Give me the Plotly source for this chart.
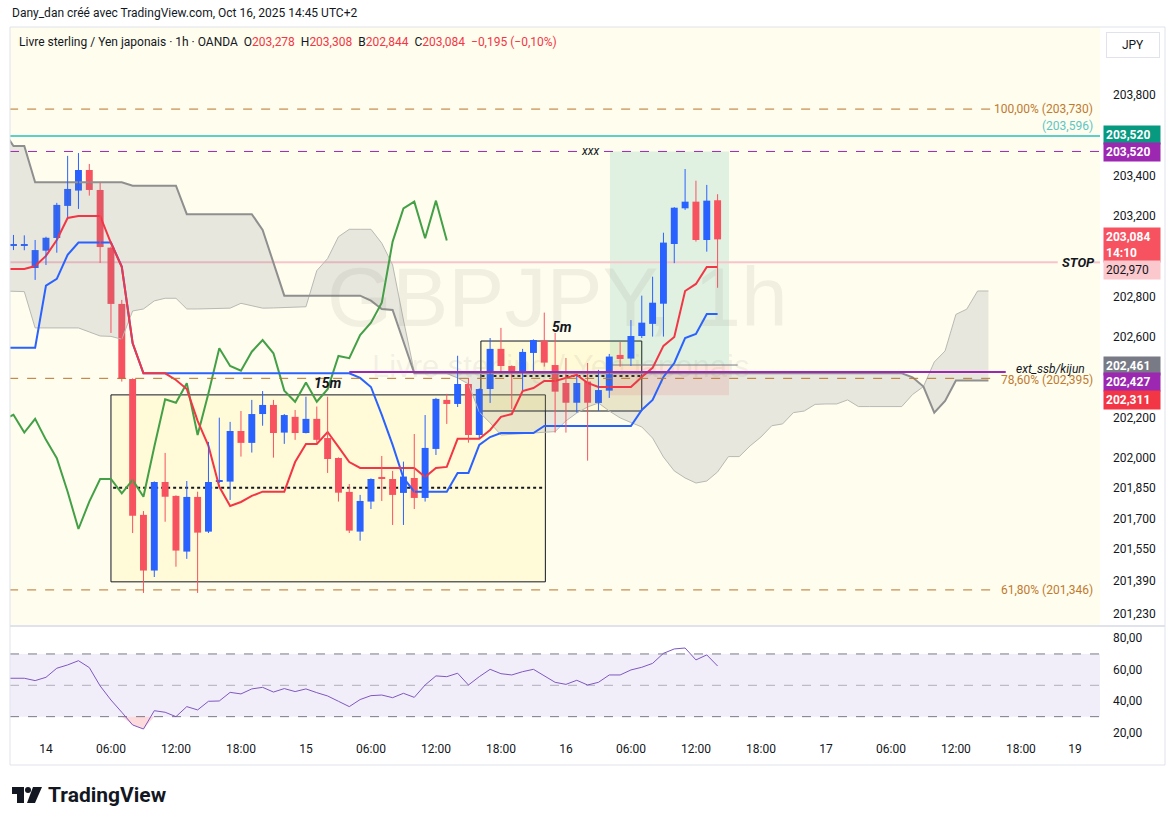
import numpy as np
import plotly.graph_objects as go

W, H = 1175, 824
FONT = "Roboto, Liberation Sans, sans-serif"

# GBPJPY 1h (OANDA).
# x unit = hours from Oct 14 00:00; first visible candle is Oct 13 21:00
first_hour = -3

opens = [203.054, 203.055, 202.942, 203.028, 203.091, 203.250, 203.326, 203.428, 203.329, 203.043,
         202.764, 202.392, 201.718, 201.442, 201.881, 201.812, 201.536, 201.807, 201.635, 201.884,
         201.883, 202.134, 202.075, 202.218, 202.263, 202.126, 202.204, 202.124, 202.194, 202.099,
         202.000, 201.832, 201.635, 201.784, 201.906, 201.896, 201.827, 201.901, 201.802, 202.045,
         202.288, 202.268, 202.367, 202.114, 202.342, 202.541, 202.456, 202.422, 202.521, 202.582,
         202.461, 202.372, 202.274, 202.379, 202.273, 202.334, 202.511, 202.493, 202.605, 202.665,
         202.765, 203.061, 203.238, 203.271, 203.081, 203.278]
highs = [203.106, 203.104, 203.081, 203.097, 203.265, 203.498, 203.512, 203.458, 203.364, 203.048,
         202.784, 202.395, 201.737, 201.884, 202.025, 201.815, 201.886, 201.833, 202.080, 202.200,
         202.179, 202.233, 202.288, 202.332, 202.288, 202.218, 202.238, 202.304, 202.255, 202.304,
         202.003, 201.871, 201.817, 201.899, 202.010, 201.936, 201.982, 202.119, 202.213, 202.298,
         202.318, 202.507, 202.397, 202.345, 202.595, 202.645, 202.459, 202.541, 202.588, 202.721,
         202.620, 202.496, 202.407, 202.471, 202.437, 202.516, 202.575, 202.684, 202.805, 202.899,
         203.117, 203.244, 203.433, 203.375, 203.354, 203.308]
lows = [203.031, 203.030, 202.883, 202.957, 203.018, 203.195, 203.235, 203.301, 202.967, 202.620,
        202.379, 201.628, 201.331, 201.410, 201.684, 201.461, 201.500, 201.331, 201.628, 201.876,
        201.792, 202.007, 202.027, 202.160, 202.002, 202.070, 202.090, 202.122, 202.075, 201.926,
        201.784, 201.628, 201.590, 201.747, 201.787, 201.668, 201.668, 201.747, 201.784, 202.015,
        202.169, 202.253, 202.076, 202.099, 202.273, 202.422, 202.243, 202.337, 202.427, 202.453,
        202.126, 202.126, 202.225, 201.987, 202.233, 202.298, 202.453, 202.456, 202.595, 202.602,
        202.602, 202.966, 203.230, 203.073, 203.023, 202.844]
closes = [203.058, 203.058, 203.031, 203.092, 203.255, 203.334, 203.428, 203.329, 203.046, 202.764,
          202.392, 201.714, 201.442, 201.881, 201.808, 201.541, 201.807, 201.630, 201.881, 201.888,
          202.134, 202.075, 202.218, 202.263, 202.124, 202.213, 202.124, 202.194, 202.090, 201.995,
          201.828, 201.640, 201.787, 201.896, 201.896, 201.817, 201.908, 201.802, 202.050, 202.293,
          202.268, 202.367, 202.114, 202.342, 202.541, 202.456, 202.427, 202.526, 202.585, 202.473,
          202.329, 202.274, 202.372, 202.274, 202.337, 202.503, 202.491, 202.605, 202.671, 202.770,
          203.068, 203.241, 203.271, 203.081, 203.276, 203.084]

# indicator lines start one bar earlier (clipped at the left edge)
line_start = -4
tenkan = [202.937, 202.937, 202.937, 202.952, 203.002, 203.081, 203.190, 203.200, 203.200, 203.200,
          203.066, 202.947, 202.570, 202.420, 202.420, 202.420, 202.387, 202.342, 202.184, 202.060,
          201.857, 201.762, 201.782, 201.812, 201.833, 201.833, 201.833, 201.980, 202.070, 202.070,
          202.129, 202.055, 201.980, 201.951, 201.951, 201.951, 201.951, 201.951, 201.951, 201.906,
          201.951, 201.956, 202.095, 202.095, 202.095, 202.139, 202.204, 202.218, 202.332, 202.347,
          202.382, 202.382, 202.397, 202.412, 202.372, 202.352, 202.352, 202.352, 202.352, 202.402,
          202.447, 202.556, 202.600, 202.828, 202.863, 202.947, 202.947]
kijun = [202.547, 202.547, 202.547, 202.547, 202.855, 202.888, 203.007, 203.068, 203.068, 203.068,
         203.068, 202.949, 202.569, 202.420, 202.420, 202.420, 202.420, 202.420, 202.420, 202.420,
         202.420, 202.420, 202.420, 202.420, 202.420, 202.420, 202.420, 202.420, 202.420, 202.420,
         202.420, 202.420, 202.420, 202.397, 202.352, 202.214, 202.065, 201.901, 201.833, 201.833,
         201.833, 201.833, 201.926, 201.926, 202.065, 202.104, 202.124, 202.124, 202.124, 202.124,
         202.159, 202.159, 202.159, 202.159, 202.159, 202.159, 202.159, 202.159, 202.159, 202.238,
         202.288, 202.402, 202.471, 202.595, 202.615, 202.714, 202.714]
rsi = [54.5, 54.5, 54.5, 53.0, 55.1, 60.9, 63.0, 65.7, 61.3, 49.6,
       40.6, 32.8, 24.7, 22.1, 33.8, 32.8, 30.0, 36.4, 34.3, 39.8,
       40.0, 45.5, 44.5, 47.7, 48.7, 45.7, 47.9, 46.0, 47.7, 45.3,
       43.2, 39.8, 36.4, 40.9, 43.4, 43.8, 42.1, 44.9, 42.3, 50.2,
       56.0, 55.5, 57.7, 50.2, 55.5, 60.2, 57.4, 56.6, 58.7, 60.2,
       56.2, 51.9, 50.6, 53.2, 50.2, 51.9, 56.6, 56.6, 59.8, 61.5,
       64.0, 70.4, 73.2, 73.8, 66.2, 69.4, 62.3]
# cloud, displaced ahead of price (from hour -4 to hour 87)
span_a = [202.828, 202.828, 202.825, 202.645, 202.645, 202.645, 202.645, 202.645, 202.625, 202.605,
          202.603, 202.589, 202.729, 202.739, 202.779, 202.792, 202.792, 202.739, 202.739, 202.741,
          202.742, 202.743, 202.767, 202.754, 202.743, 202.744, 202.746, 202.749, 202.750, 202.929,
          202.989, 203.097, 203.134, 203.134, 203.134, 203.065, 202.957, 202.684, 202.427, 202.424,
          202.423, 202.419, 202.397, 202.367, 202.228, 202.174, 202.114, 202.117, 202.119, 202.123,
          202.127, 202.131, 202.184, 202.223, 202.253, 202.273, 202.233, 202.199, 202.176, 202.154,
          202.099, 202.005, 201.936, 201.901, 201.876, 201.886, 201.931, 202.007, 202.007, 202.060,
          202.104, 202.160, 202.169, 202.225, 202.233, 202.266, 202.268, 202.268, 202.288, 202.255,
          202.255, 202.255, 202.255, 202.255, 202.315, 202.354, 202.476, 202.531, 202.712, 202.738,
          202.828, 202.828]
span_b = [203.626, 203.547, 203.547, 203.367, 203.367, 203.367, 203.367, 203.367, 203.367, 203.367,
          203.367, 203.367, 203.350, 203.350, 203.350, 203.350, 203.350, 203.209, 203.209, 203.209,
          203.209, 203.209, 203.209, 203.209, 203.131, 202.967, 202.805, 202.805, 202.805, 202.805,
          202.805, 202.805, 202.805, 202.805, 202.780, 202.739, 202.734, 202.580, 202.420, 202.420,
          202.420, 202.420, 202.420, 202.420, 202.420, 202.420, 202.420, 202.420, 202.420, 202.420,
          202.420, 202.420, 202.420, 202.420, 202.420, 202.420, 202.420, 202.420, 202.420, 202.420,
          202.420, 202.420, 202.420, 202.420, 202.420, 202.420, 202.420, 202.420, 202.420, 202.420,
          202.420, 202.420, 202.420, 202.420, 202.420, 202.420, 202.420, 202.420, 202.420, 202.420,
          202.420, 202.420, 202.420, 202.420, 202.400, 202.354, 202.225, 202.283, 202.384, 202.384,
          202.384, 202.384]
# lagging line, shifted back (hour -4 to hour 37)
chikou = [202.189, 202.214, 202.126, 202.194, 202.090, 201.999, 201.833, 201.648, 201.784, 201.896,
          201.896, 201.825, 201.891, 201.808, 202.056, 202.291, 202.274, 202.371, 202.114, 202.321,
          202.544, 202.456, 202.433, 202.527, 202.585, 202.519, 202.334, 202.279, 202.374, 202.279,
          202.341, 202.506, 202.495, 202.610, 202.671, 202.770, 203.073, 203.238, 203.271, 203.090,
          203.276, 203.078]

tick_hours = [0, 6, 12, 18, 24, 30, 36, 42, 48, 54, 60, 66, 72, 78, 84, 90, 95]
tick_text = ["14", "06:00", "12:00", "18:00", "15", "06:00", "12:00", "18:00",
             "16", "06:00", "12:00", "18:00", "17", "06:00", "12:00", "18:00", "19"]
price_ticks = [203.8, 203.4, 203.2, 202.8, 202.6, 202.2, 202.0, 201.85, 201.7, 201.55, 201.39, 201.23]
rsi_ticks = [20, 40, 60, 80]

# drawn levels
fib_levels = [(203.730, "100,00% (203,730)"), (202.395, "78,60% (202,395)"), (201.346, "61,80% (201,346)")]
teal_level = 203.596
target = 203.520
stop_level = 202.970
entry = 202.461
stop_loss = 202.311
ext_level = 202.427


def fmt(v, d=3):
    return f"{v:.{d}f}".replace(".", ",")


def py(p):
    return 1 - p / H


def px(p):
    return p / W


hours = list(range(first_hour, first_hour + len(closes)))
lhours = list(range(line_start, line_start + len(tenkan)))
cloud_hours = list(range(line_start, line_start + len(span_a)))
chikou_hours = list(range(line_start, line_start + len(chikou)))

UP, DOWN = "#2962ff", "#f7525f"
up = [c >= o for o, c in zip(opens, closes)]

fig = go.Figure()

# cloud
fig.add_trace(go.Scatter(x=cloud_hours, y=span_a, mode="lines", line=dict(color="#b9b9b5", width=1),
                         hoverinfo="skip", showlegend=False))
fig.add_trace(go.Scatter(x=cloud_hours, y=span_b, mode="lines", line=dict(color="#8f8f8f", width=2),
                         fill="tonexty", fillcolor="rgba(120,123,134,0.17)", hoverinfo="skip",
                         showlegend=False))

# chikou, kijun, tenkan
fig.add_trace(go.Scatter(x=chikou_hours, y=chikou, mode="lines", line=dict(color="#43a047", width=2),
                         showlegend=False))
fig.add_trace(go.Scatter(x=lhours, y=kijun, mode="lines", line=dict(color="#2962ff", width=2),
                         showlegend=False))
fig.add_trace(go.Scatter(x=lhours, y=tenkan, mode="lines", line=dict(color="#f23645", width=2),
                         showlegend=False))

# candles: wicks + bodies
for flag, col in ((True, UP), (False, DOWN)):
    wx, wy = [], []
    for h, hi, lo, u in zip(hours, highs, lows, up):
        if u == flag:
            wx += [h, h, None]
            wy += [lo, hi, None]
    fig.add_trace(go.Scatter(x=wx, y=wy, mode="lines", line=dict(color=col, width=1),
                             hoverinfo="skip", showlegend=False))

fig.add_trace(go.Bar(
    x=hours,
    y=[max(abs(c - o), 0.004) for o, c in zip(opens, closes)],
    base=[min(o, c) for o, c in zip(opens, closes)],
    width=0.64,
    marker=dict(color=[UP if u else DOWN for u in up], line=dict(width=0)),
    showlegend=False,
))

# RSI pane
rsi_arr = np.array(rsi)
fig.add_trace(go.Scatter(x=lhours, y=[30] * len(rsi), mode="lines", line=dict(width=0),
                         xaxis="x2", yaxis="y2", hoverinfo="skip", showlegend=False))
fig.add_trace(go.Scatter(x=lhours, y=np.minimum(rsi_arr, 30), mode="lines", line=dict(width=0),
                         fill="tonexty", fillcolor="rgba(242,54,69,0.18)",
                         xaxis="x2", yaxis="y2", hoverinfo="skip", showlegend=False))
fig.add_trace(go.Scatter(x=lhours, y=rsi, mode="lines", line=dict(color="#7e57c2", width=1),
                         xaxis="x2", yaxis="y2", showlegend=False))

shapes = []
# main pane background
shapes.append(dict(type="rect", xref="x domain", yref="y domain", x0=0, x1=1, y0=0, y1=1,
                   fillcolor="#fffdee", line=dict(width=0), layer="below"))
# rsi band
shapes.append(dict(type="rect", xref="x2 domain", yref="y2", x0=0, x1=1, y0=30, y1=70,
                   fillcolor="rgba(126,87,194,0.1)", line=dict(width=0), layer="below"))
for lvl, col in ((70, "#787b86"), (30, "#787b86"), (50, "rgba(120,123,134,0.55)")):
    shapes.append(dict(type="line", xref="x2 domain", yref="y2", x0=0, x1=1, y0=lvl, y1=lvl,
                       line=dict(color=col, width=1, dash="dash"), layer="below"))

# boxes drawn on the chart
box15 = dict(x0=6.0, x1=46.1, y0=201.386, y1=202.313)
box5 = dict(x0=40.15, x1=55.0, y0=202.233, y1=202.580)
for b in (box15, box5):
    shapes.append(dict(type="rect", xref="x", yref="y", **b, fillcolor="rgba(255,230,60,0.13)",
                       line=dict(color="#131722", width=1), layer="below"))
shapes.append(dict(type="line", xref="x", yref="y", x0=6.2, x1=46.1, y0=201.852, y1=201.852,
                   line=dict(color="#131722", width=2, dash="dot"), layer="below"))
shapes.append(dict(type="line", xref="x", yref="y", x0=40.2, x1=55.0, y0=202.407, y1=202.407,
                   line=dict(color="#131722", width=2, dash="dot"), layer="below"))

# long position tool
pos_x0, pos_x1 = 52.06, 63.05
shapes.append(dict(type="rect", xref="x", yref="y", x0=pos_x0, x1=pos_x1, y0=entry, y1=target,
                   fillcolor="rgba(8,153,129,0.12)", line=dict(width=0), layer="below"))
shapes.append(dict(type="rect", xref="x", yref="y", x0=pos_x0, x1=pos_x1, y0=stop_loss, y1=entry,
                   fillcolor="rgba(242,54,69,0.12)", line=dict(width=0), layer="below"))
shapes.append(dict(type="line", xref="x", yref="y", x0=pos_x0, x1=pos_x1 + 0.8, y0=entry, y1=entry,
                   line=dict(color="#787b86", width=1), layer="below"))

# horizontal levels
for lvl, _ in fib_levels:
    shapes.append(dict(type="line", xref="x", yref="y", x0=-3.4, x1=87.2, y0=lvl, y1=lvl,
                       line=dict(color="#b8742a", width=1, dash="dash")))
shapes.append(dict(type="line", xref="x domain", yref="y", x0=0, x1=1, y0=teal_level, y1=teal_level,
                   line=dict(color="#5ccfc8", width=2)))
shapes.append(dict(type="line", xref="x domain", yref="y", x0=0, x1=1, y0=target, y1=target,
                   line=dict(color="#9c27b0", width=1, dash="dash")))
shapes.append(dict(type="line", xref="x", yref="y", x0=-3.4, x1=93.4, y0=stop_level, y1=stop_level,
                   line=dict(color="#f8c4cb", width=2), layer="below"))
shapes.append(dict(type="line", xref="x", yref="y", x0=96.7, x1=97.3, y0=stop_level, y1=stop_level,
                   line=dict(color="#f8c4cb", width=2), layer="below"))
shapes.append(dict(type="line", xref="x", yref="y", x0=28, x1=88.6, y0=ext_level, y1=ext_level,
                   line=dict(color="#9c27b0", width=2)))

# frame and separators
shapes.append(dict(type="rect", xref="paper", yref="paper", x0=px(10), x1=px(1165), y0=py(765), y1=py(27),
                   line=dict(color="#e0e3eb", width=1)))
shapes.append(dict(type="line", xref="paper", yref="paper", x0=px(10), x1=px(1165), y0=py(626), y1=py(626),
                   line=dict(color="#e0e3eb", width=2)))

# TradingView logo
shapes.append(dict(type="rect", xref="paper", yref="paper", x0=px(12), x1=px(24), y0=py(794), y1=py(787),
                   fillcolor="#131722", line=dict(width=0)))
shapes.append(dict(type="rect", xref="paper", yref="paper", x0=px(17), x1=px(24), y0=py(803), y1=py(787),
                   fillcolor="#131722", line=dict(width=0)))
shapes.append(dict(type="circle", xref="paper", yref="paper", x0=px(25), x1=px(31), y0=py(793), y1=py(787),
                   fillcolor="#131722", line=dict(width=0)))
shapes.append(dict(type="path", xref="paper", yref="paper",
                   path=f"M {px(33)} {py(787)} L {px(42)} {py(787)} L {px(35)} {py(803)} L {px(27)} {py(803)} Z",
                   fillcolor="#131722", line=dict(width=0)))

ann = []
ann.append(dict(xref="paper", yref="paper", x=px(10), y=py(13), xanchor="left", yanchor="middle",
                text="Dany_dan créé avec TradingView.com, Oct 16, 2025 14:45 UTC+2", showarrow=False,
                font=dict(size=12, color="#131722")))
red = "#f23645"
s = "\u00a0"
hdr = (f"Livre sterling / Yen japonais · 1h · OANDA{s}{s}O<span style='color:{red}'>{fmt(opens[-1])}</span>"
       f"{s}{s}H<span style='color:{red}'>{fmt(highs[-1])}</span>"
       f"{s}{s}B<span style='color:{red}'>{fmt(lows[-1])}</span>"
       f"{s}{s}C<span style='color:{red}'>{fmt(closes[-1])}</span>"
       f"{s}{s}<span style='color:{red}'>−0,195 (−0,10%)</span>")
ann.append(dict(xref="paper", yref="paper", x=px(17), y=py(42), xanchor="left", yanchor="middle",
                text=hdr, showarrow=False, font=dict(size=12, color="#131722")))
ann.append(dict(xref="paper", yref="paper", x=px(1133), y=py(45), xanchor="center", yanchor="middle",
                text="JPY", showarrow=False,
                font=dict(size=12, color="#131722"), bordercolor="#e0e3eb", borderwidth=1,
                borderpad=4, width=44, height=16, bgcolor="white"))
ann.append(dict(xref="paper", yref="paper", x=px(46), y=py(795), xanchor="left", yanchor="middle",
                text="<b>TradingView</b>", showarrow=False, font=dict(size=21, color="#131722")))

# watermark
ann.append(dict(xref="paper", yref="paper", x=px(557), y=py(297), xanchor="center", text="GBPJPY, 1h",
                showarrow=False, font=dict(size=84, color="rgba(120,120,110,0.10)", family="Liberation Sans")))
ann.append(dict(xref="paper", yref="paper", x=px(560), y=py(366), xanchor="center",
                text="Livre sterling / Yen japonais",
                showarrow=False, font=dict(size=31, color="rgba(120,120,110,0.10)", family="Liberation Sans")))

# level labels
for lvl, txt in fib_levels:
    ann.append(dict(xref="paper", yref="y", x=px(1095), y=lvl, xanchor="right", yanchor="middle",
                    yshift=-2 if lvl == 202.395 else 0,
                    text=txt, showarrow=False, font=dict(size=12, color="#c07a2e")))
ann.append(dict(xref="paper", yref="y", x=px(1095), y=teal_level, xanchor="right", yanchor="bottom",
                yshift=1, text=f"({fmt(teal_level)})", showarrow=False, font=dict(size=12, color="#5cc6c6")))
ann.append(dict(xref="paper", yref="y", x=px(1078), y=stop_level, xanchor="center", yanchor="middle",
                text="<b><i>STOP</i></b>", showarrow=False, font=dict(size=13, color="#131722")))
ann.append(dict(xref="paper", yref="y", x=px(1050), y=ext_level, xanchor="center", yanchor="bottom",
                yshift=-6, text="<i>ext_ssb/kijun</i>", showarrow=False, font=dict(size=12, color="#131722")))
ann.append(dict(xref="x", yref="y", x=50.3, y=target, text="<i>xxx</i>", showarrow=False,
                bgcolor="#fffdee", borderpad=1, font=dict(size=12, color="#131722")))
ann.append(dict(xref="x", yref="y", x=26.0, y=202.372, text="<b><i>15m</i></b>", showarrow=False,
                font=dict(size=14, color="#131722")))
ann.append(dict(xref="x", yref="y", x=47.6, y=202.652, text="<b><i>5m</i></b>", showarrow=False,
                font=dict(size=14, color="#131722")))

# price scale badges
badges = [
    (fmt(target), "#089981", "white", 135),
    (fmt(target), "#9c27b0", "white", 152),
    (fmt(closes[-1]) + "<br>14:10", "#f7525f", "white", 245),
    (fmt(stop_level), "#fbc8cd", "#131722", 270),
    (fmt(entry), "#787b86", "white", 366),
    (fmt(ext_level), "#9c27b0", "white", 382),
    (fmt(stop_loss), "#f23645", "white", 400),
]
for txt, bg, fg, ypx in badges:
    ann.append(dict(xref="paper", yref="paper", x=px(1103), y=py(ypx), xanchor="left", yanchor="middle",
                    text=txt if fg != "white" else f"<b>{txt}</b>", showarrow=False, align="left",
                    bgcolor=bg, borderpad=2, width=52, font=dict(size=12, color=fg)))

fig.update_layout(
    width=W, height=H, autosize=False,
    margin=dict(l=0, r=0, t=0, b=0),
    paper_bgcolor="white", plot_bgcolor="white",
    font=dict(family=FONT, size=12, color="#131722"),
    showlegend=False, barmode="overlay", hovermode=False,
    xaxis=dict(domain=[px(10), px(1100)], range=[-3.32, 97.3], anchor="y", showticklabels=False,
               showgrid=False, zeroline=False, showline=False, fixedrange=True),
    yaxis=dict(domain=[py(625), py(27)], range=[201.172, 204.137], side="right", anchor="x",
               tickvals=price_ticks, ticktext=[fmt(v) for v in price_ticks], showgrid=False,
               zeroline=False, ticks="", ticklabelstandoff=12, automargin=False,
               tickfont=dict(size=12, color="#131722")),
    xaxis2=dict(domain=[px(10), px(1100)], range=[-3.32, 97.3], anchor="y2", tickvals=tick_hours,
                ticktext=tick_text, showgrid=False, zeroline=False, showline=False, ticks="",
                tickfont=dict(size=12, color="#131722"), automargin=False),
    yaxis2=dict(domain=[py(740), py(627)], range=[15.1, 87.2], side="right", anchor="x2",
                tickvals=rsi_ticks, ticktext=[fmt(v, 2) for v in rsi_ticks], showgrid=False,
                zeroline=False, ticks="", ticklabelstandoff=12, automargin=False,
                tickfont=dict(size=12, color="#131722")),
    shapes=shapes,
    annotations=ann,
)

fig.write_html("out.html", config={"displayModeBar": False},
               post_script="document.body.style.margin='0';")
